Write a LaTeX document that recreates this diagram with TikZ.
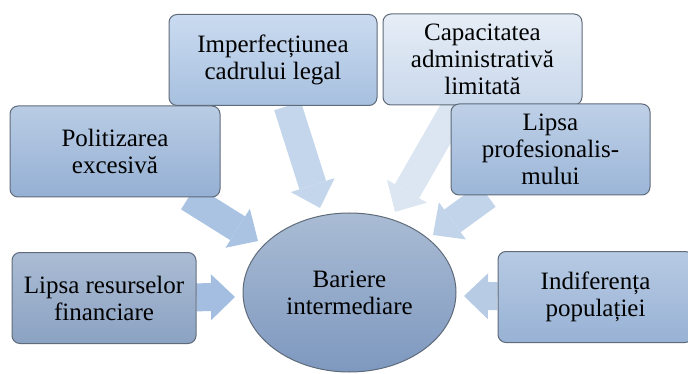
\documentclass[tikz,border=0pt]{standalone}
\usepackage{fontspec}
\setmainfont{Liberation Serif}
\usetikzlibrary{arrows.meta}
\usetikzlibrary{backgrounds}
\usetikzlibrary{shapes.geometric}
\definecolor{BoxLine}{HTML}{5F6B7A}
\definecolor{ImperfTop}{HTML}{CADBF0}
\definecolor{ImperfBot}{HTML}{A7C0DF}
\definecolor{CapacTop}{HTML}{E6EDF6}
\definecolor{CapacBot}{HTML}{C9D8EC}
\definecolor{PolitTop}{HTML}{B9CCE4}
\definecolor{PolitBot}{HTML}{95B0D4}
\definecolor{ProfesTop}{HTML}{BED0E7}
\definecolor{ProfesBot}{HTML}{9CB6D8}
\definecolor{ResurseTop}{HTML}{ABBCD4}
\definecolor{ResurseBot}{HTML}{8BA2C2}
\definecolor{IndifTop}{HTML}{B7CAE3}
\definecolor{IndifBot}{HTML}{98B2D5}
\definecolor{BariereTop}{HTML}{AABCD4}
\definecolor{BariereBot}{HTML}{7E98BF}
\definecolor{ArrowPolit}{HTML}{AAC3E2}
\definecolor{ArrowImperf}{HTML}{C4D6EC}
\definecolor{ArrowCapac}{HTML}{DCE6F2}
\definecolor{ArrowProfes}{HTML}{C2D4EA}
\definecolor{ArrowResurse}{HTML}{A3BEE0}
\definecolor{ArrowIndif}{HTML}{B7CBE5}

\begin{document}
\begin{tikzpicture}[x=1pt, y=-1pt,
    every node/.style={font=\fontsize{25}{27}\selectfont, align=center, inner sep=2pt},
    barrier/.style={draw=BoxLine, line width=1pt, rounded corners=8pt,
      minimum height=91pt},
    blockarrow/.style={line width=28pt, line cap=butt,
      -{Triangle[length=24pt,width=46pt,line width=0pt]}}]
  \useasboundingbox (0,0) rectangle (688,374);
  \clip (0,0) rectangle (688,374);

  \node[barrier, minimum width=208pt, top color=ImperfTop, bottom color=ImperfBot]
    (Imperf) at (273,60) {Imperfecțiunea\\cadrului legal};
  \node[barrier, minimum width=199pt, top color=CapacTop, bottom color=CapacBot]
    (Capac) at (482.5,59.5) {Capacitatea\\administrativă\\limitată};
  \node[barrier, minimum width=210pt, top color=PolitTop, bottom color=PolitBot]
    (Polit) at (115,151.5) {Politizarea\\excesivă};
  \node[barrier, minimum width=199pt, top color=ProfesTop, bottom color=ProfesBot]
    (Profes) at (550.5,149.5) {Lipsa\\profesionalis-\\mului};
  \node[barrier, minimum width=184pt, top color=ResurseTop, bottom color=ResurseBot]
    (Resurse) at (104,298) {Lipsa resurselor\\financiare};
  \node[barrier, minimum width=195pt, top color=IndifTop, bottom color=IndifBot]
    (Indif) at (595.5,297) {Indiferența\\populației};

  \node[ellipse, draw=BoxLine, line width=1pt, minimum width=213pt, minimum height=159pt,
    top color=BariereTop, bottom color=BariereBot]
    (Bariere) at (349.5,292.5) {Bariere\\intermediare};

  \coordinate (PolitTip)   at (258,241);
  \coordinate (ImperfTip)  at (320,208);
  \coordinate (CapacTip)   at (395,212);
  \coordinate (ProfesTip)  at (433,235);
  \coordinate (ResurseTip) at (235,297);
  \coordinate (IndifTip)   at (464,296);

  \begin{scope}[on background layer]
    \draw[blockarrow, ArrowCapac]   (Capac)   -- (CapacTip);
    \draw[blockarrow, ArrowImperf]  (Imperf)  -- (ImperfTip);
    \draw[blockarrow, ArrowPolit]   (Polit)   -- (PolitTip);
    \draw[blockarrow, ArrowProfes]  (Profes)  -- (ProfesTip);
    \draw[blockarrow, ArrowResurse] (Resurse) -- (ResurseTip);
    \draw[blockarrow, ArrowIndif]   (Indif)   -- (IndifTip);
  \end{scope}
\end{tikzpicture}
\end{document}
